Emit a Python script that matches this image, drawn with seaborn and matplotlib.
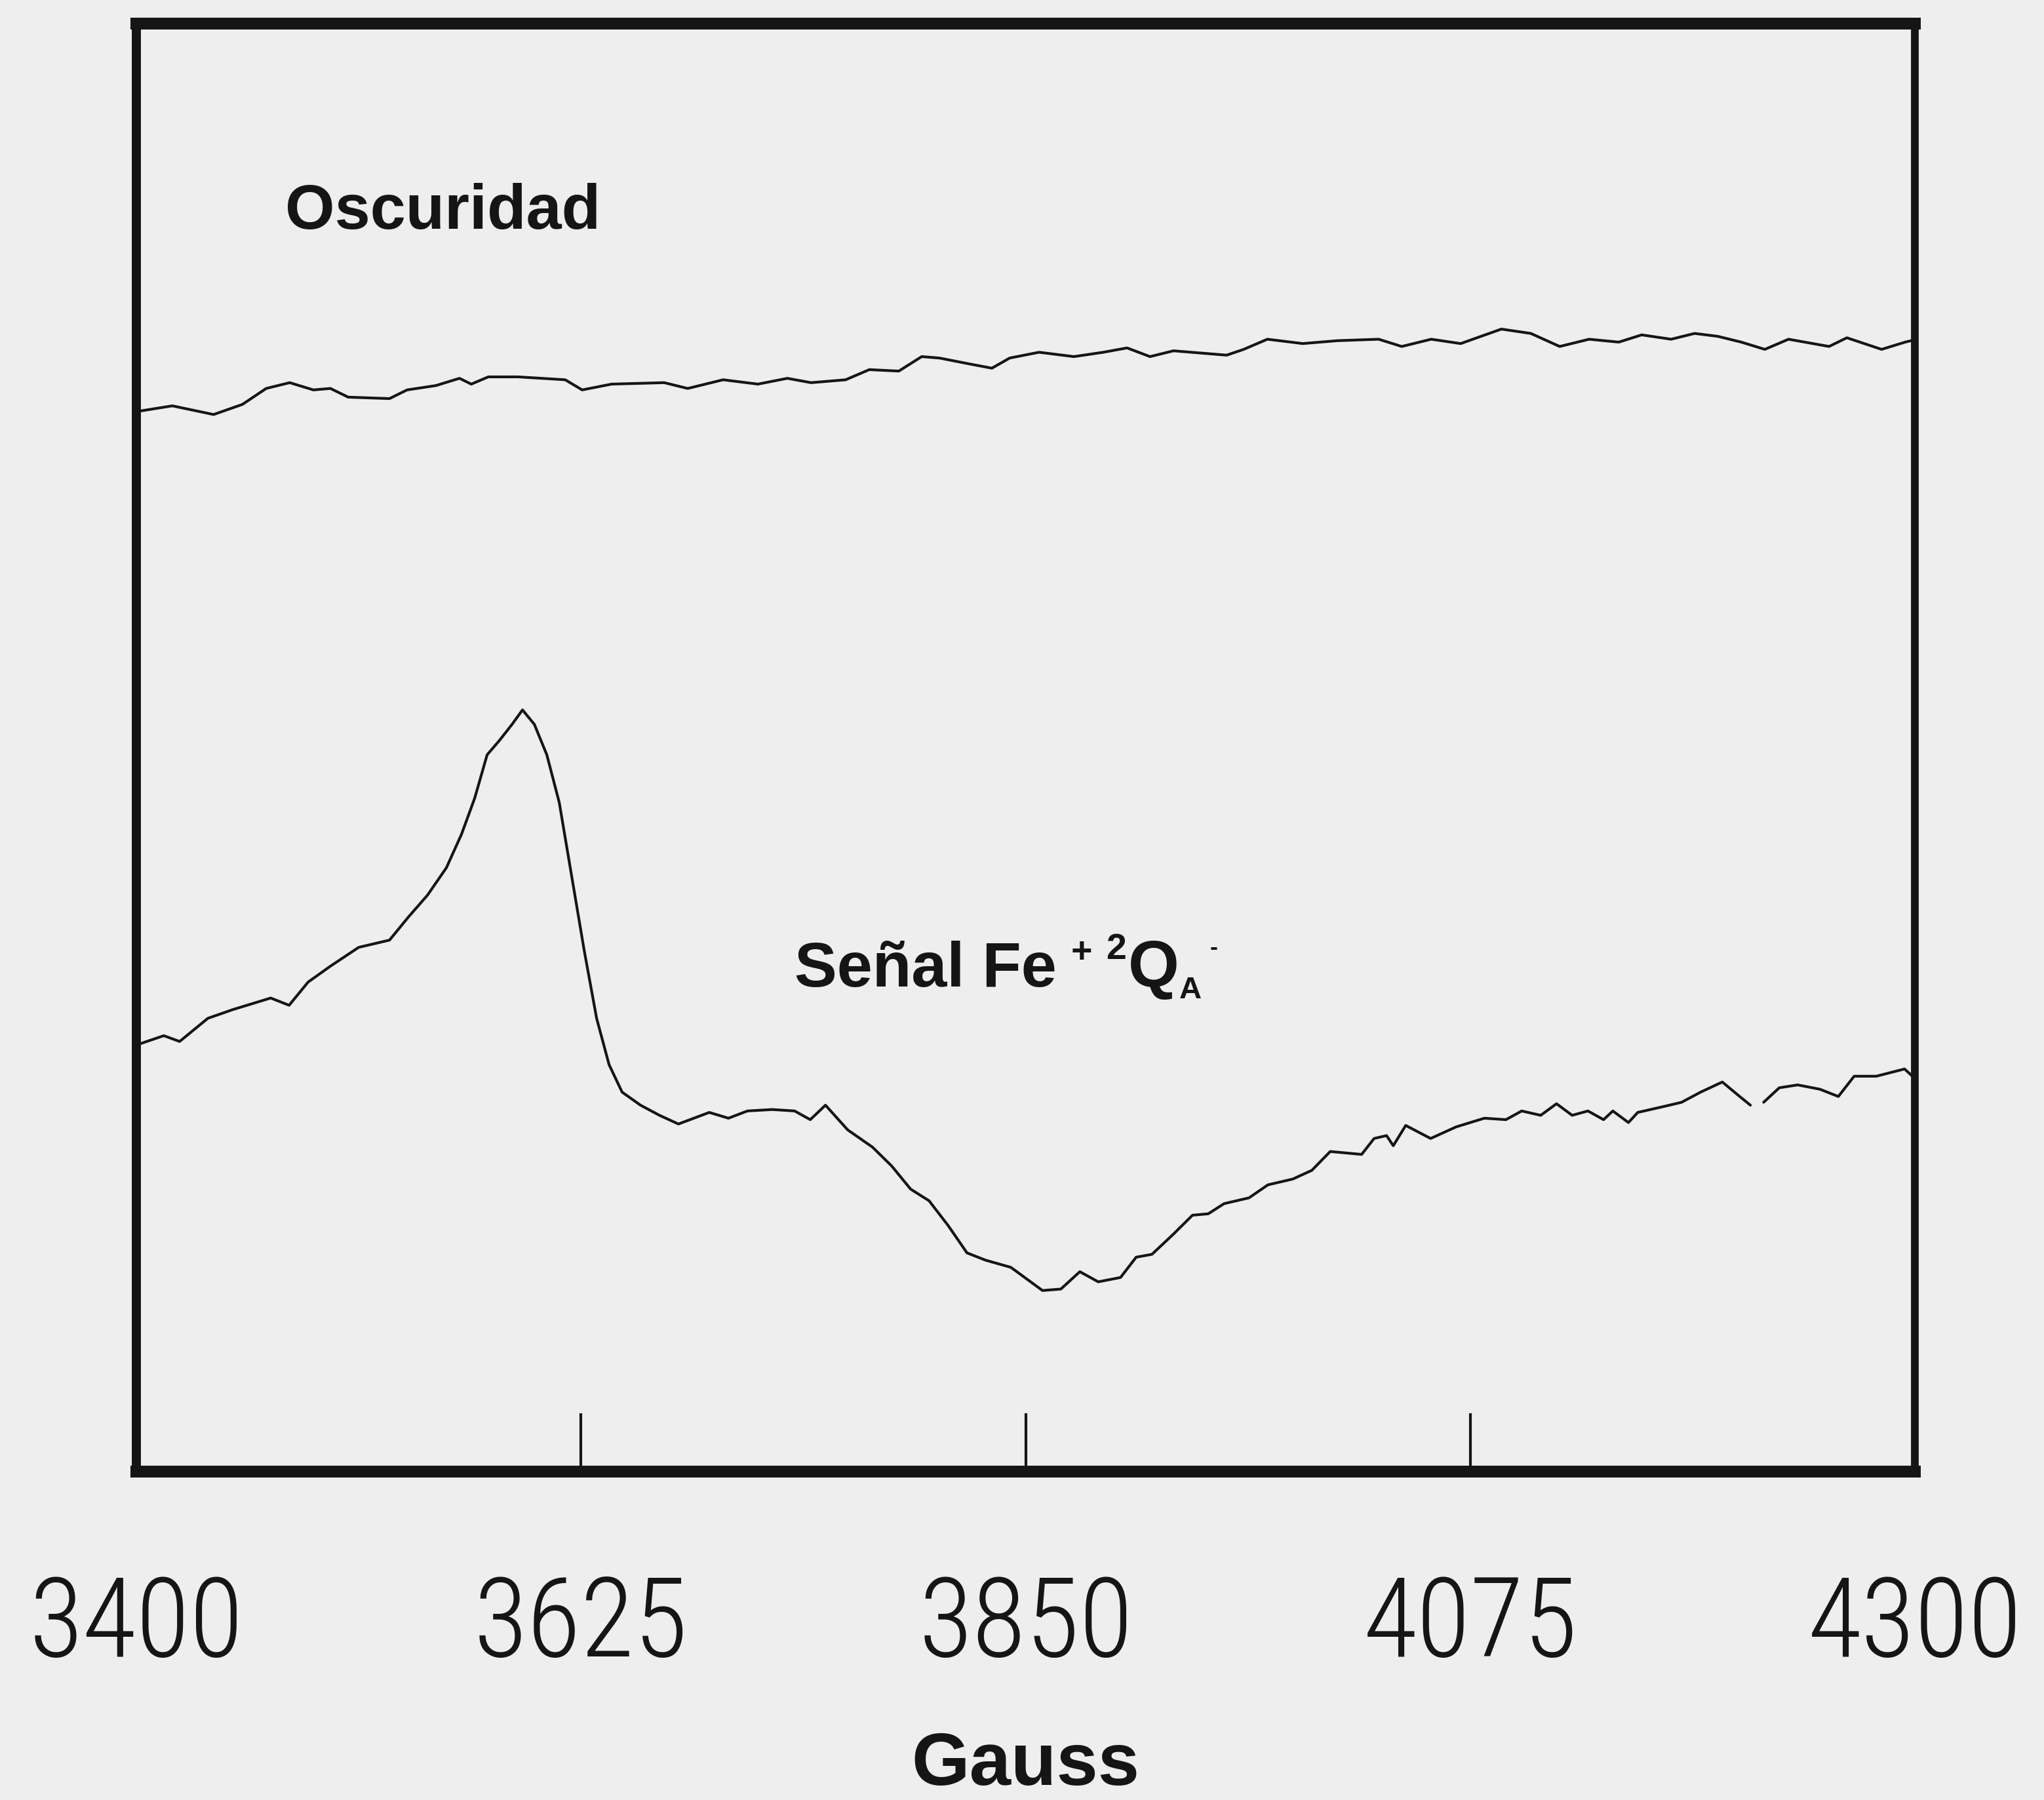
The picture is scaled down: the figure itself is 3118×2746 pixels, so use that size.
import numpy as np
import pandas as pd
import matplotlib
matplotlib.use("Agg")
import matplotlib.pyplot as plt
from matplotlib import font_manager
from matplotlib.font_manager import FontProperties
from matplotlib.transforms import offset_copy
import seaborn as sns

# EPR spectra: magnetic field (Gauss) vs. signal (arbitrary units)
dark_gauss = [3400.0, 3418.2, 3439.1, 3453.7, 3465.7, 3477.6, 3489.6, 3498.2, 3507.2,
              3528.1, 3537.0, 3551.6, 3563.5, 3569.5, 3578.1, 3593.1, 3617.0, 3625.6,
              3640.5, 3667.1, 3679.0, 3696.9, 3714.5, 3729.4, 3741.4, 3758.9, 3770.9,
              3785.8, 3797.4, 3806.4, 3821.3, 3832.9, 3841.9, 3856.8, 3874.4, 3889.3,
              3901.3, 3912.9, 3924.8, 3951.7, 3960.3, 3972.3, 3990.2, 4007.8, 4028.6,
              4040.3, 4055.2, 4070.1, 4090.7, 4105.6, 4120.2, 4135.1, 4150.1, 4161.7,
              4176.6, 4188.5, 4200.2, 4212.1, 4224.0, 4236.0, 4256.5, 4265.5, 4283.1,
              4295.0, 4298.0]
dark_signal = [73.2, 73.6, 73.0, 73.7, 74.8, 75.2, 74.7, 74.8, 74.2,
               74.1, 74.7, 75.0, 75.5, 75.1, 75.6, 75.6, 75.4, 74.7,
               75.1, 75.2, 74.8, 75.4, 75.1, 75.5, 75.2, 75.4, 76.1,
               76.0, 77.0, 76.9, 76.5, 76.2, 76.9, 77.3, 77.0, 77.3,
               77.6, 77.0, 77.4, 77.1, 77.5, 78.2, 77.9, 78.1, 78.2,
               77.7, 78.2, 77.9, 78.9, 78.6, 77.7, 78.2, 78.0, 78.5,
               78.2, 78.6, 78.4, 78.0, 77.5, 78.2, 77.7, 78.3, 77.5,
               78.0, 78.1]

light_gauss_a = [3401.0, 3413.9, 3421.9, 3436.2, 3448.8, 3468.0, 3477.3, 3486.9, 3498.2,
                 3512.5, 3528.1, 3537.7, 3547.3, 3556.9, 3564.5, 3571.2, 3577.5, 3583.8,
                 3590.1, 3595.4, 3601.4, 3607.7, 3614.0, 3620.3, 3626.6, 3632.9, 3639.2,
                 3645.8, 3655.1, 3664.7, 3674.3, 3689.9, 3699.6, 3709.2, 3721.8, 3733.1,
                 3741.0, 3748.7, 3759.9, 3772.5, 3782.2, 3791.8, 3801.1, 3810.7, 3820.3,
                 3829.6, 3842.5, 3858.5, 3867.8, 3877.4, 3886.7, 3898.0, 3905.9, 3913.9,
                 3924.8, 3934.4, 3942.4, 3950.4, 3963.0, 3972.6, 3985.2, 3994.8, 4004.1,
                 4012.1, 4020.0, 4026.3, 4032.6, 4036.0, 4042.3, 4054.9, 4067.8, 4082.1,
                 4093.0, 4101.0, 4110.6, 4118.6, 4126.5, 4134.5, 4142.4, 4147.1, 4155.0,
                 4159.7, 4172.6, 4181.9, 4191.5, 4202.5, 4210.4, 4216.7]
light_signal_a = [29.5, 30.1, 29.7, 31.3, 31.9, 32.7, 32.2, 33.8, 34.9,
                  36.2, 36.7, 38.3, 39.8, 41.7, 44.0, 46.5, 49.5, 50.5,
                  51.6, 52.6, 51.6, 49.5, 46.2, 41.1, 36.0, 31.3, 28.1,
                  26.2, 25.3, 24.6, 24.0, 24.8, 24.4, 24.9, 25.0, 24.9,
                  24.3, 25.3, 23.6, 22.4, 21.1, 19.5, 18.7, 17.0, 15.1,
                  14.6, 14.1, 12.5, 12.6, 13.8, 13.1, 13.4, 14.8, 15.0,
                  16.4, 17.7, 17.8, 18.5, 18.9, 19.8, 20.2, 20.8, 22.1,
                  22.0, 21.9, 23.0, 23.2, 22.5, 23.9, 23.0, 23.8, 24.4,
                  24.3, 24.9, 24.6, 25.4, 24.6, 24.9, 24.3, 24.9, 24.1,
                  24.8, 25.2, 25.5, 26.2, 26.9, 26.0, 25.3]
light_gauss_b = [4223.4, 4231.3, 4240.6, 4251.9, 4261.2, 4269.2, 4280.4, 4294.7, 4298.7]
light_signal_b = [25.5, 26.5, 26.7, 26.4, 25.9, 27.3, 27.3, 27.8, 27.3]

tick_values = [3400, 3625, 3850, 4075, 4300]
tick_labels = ["3400", "3625", "3850", "4075", "4300"]
x_label = "Gauss"
dark_label = "Oscuridad"
# "Señal Fe+2 QA-" written as base text, superscripts and subscript
light_label_parts = ["Señal Fe", "+", "2", "Q", "A", "-"]

frames = [
    pd.DataFrame({"gauss": dark_gauss, "signal": dark_signal, "segment": "dark"}),
    pd.DataFrame({"gauss": light_gauss_a, "signal": light_signal_a, "segment": "light_a"}),
    pd.DataFrame({"gauss": light_gauss_b, "signal": light_signal_b, "segment": "light_b"}),
]
spectra = pd.concat(frames, ignore_index=True)

sns.set_theme(style="white")

installed = {f.name for f in font_manager.fontManager.ttflist}


def first_font(candidates):
    for name in candidates:
        if name in installed:
            return name
    return "DejaVu Sans"


def weight_value(w):
    if isinstance(w, str):
        return font_manager.weight_dict.get(w, 400)
    return int(w)


def light_condensed_file():
    """Find a light (or regular) condensed face for the field-value labels."""
    best, best_score = None, None
    for f in font_manager.fontManager.ttflist:
        if f.style != "normal":
            continue
        name = f.name
        if "Condensed" in name or "Narrow" in name:
            w = weight_value(f.weight)
            if w < 250:
                continue
            score = abs(w - 300)
            if "Roboto" in name:
                score -= 5
            if best_score is None or score < best_score:
                best, best_score = f.fname, score
    return best


narrow_file = light_condensed_file()
bold_font = first_font(["Liberation Sans", "Roboto", "DejaVu Sans"])

plt.rcParams["font.family"] = [bold_font, "DejaVu Sans"]

paper = "#eeeeee"
ink = "#151515"

fig = plt.figure(figsize=(31.18, 27.46), dpi=100, facecolor=paper)
ax = fig.add_axes([0.0667, 0.1825, 0.8702, 0.8044])
ax.set_facecolor(paper)

sns.lineplot(data=spectra, x="gauss", y="signal", units="segment", estimator=None,
             sort=False, color=ink, linewidth=3.0, ax=ax, legend=False)

ax.set_xlim(3400, 4300)
ax.set_ylim(0, 100)
ax.set_yticks([])
ax.set_ylabel("")

if narrow_file is not None:
    tick_fp = FontProperties(fname=narrow_file, size=121)
else:
    tick_fp = FontProperties(family="DejaVu Sans", stretch="condensed", size=110)
ax.set_xticks(tick_values)
ax.set_xticklabels(tick_labels, fontproperties=tick_fp, color=ink)
ax.tick_params(axis="x", direction="in", length=64, width=3, color=ink,
               pad=112, bottom=True)

ax.set_xlabel(x_label, fontsize=82, fontweight="bold", color=ink, labelpad=57)

for side, lw in {"top": 13, "bottom": 13, "left": 10, "right": 8.5}.items():
    ax.spines[side].set_visible(True)
    ax.spines[side].set_linewidth(lw)
    ax.spines[side].set_color(ink)

ax.text(0.0837, 0.8583, dark_label, transform=ax.transAxes, ha="left", va="baseline",
        fontsize=70, fontweight="bold", color=ink)

# chemical label assembled piece by piece (sizes in pt, gaps/rises in pixels)
fig.canvas.draw()
renderer = fig.canvas.get_renderer()
part_sizes = [70, 40, 40, 72, 34, 26]
part_gaps = [0, 22, 21, 3, 0, 12]
part_rises = [0, 37, 42, 0, -18, 49]
x_px = 0.0
for text, size, gap, rise in zip(light_label_parts, part_sizes, part_gaps, part_rises):
    x_px += gap
    tr = offset_copy(ax.transAxes, fig=fig, x=x_px, y=rise, units="dots")
    t = ax.text(0.370, 0.335, text, transform=tr, ha="left", va="baseline",
                fontsize=size, fontweight="bold", color=ink)
    x_px += t.get_window_extent(renderer).width

fig.savefig("out.png", dpi=100, facecolor=paper)
